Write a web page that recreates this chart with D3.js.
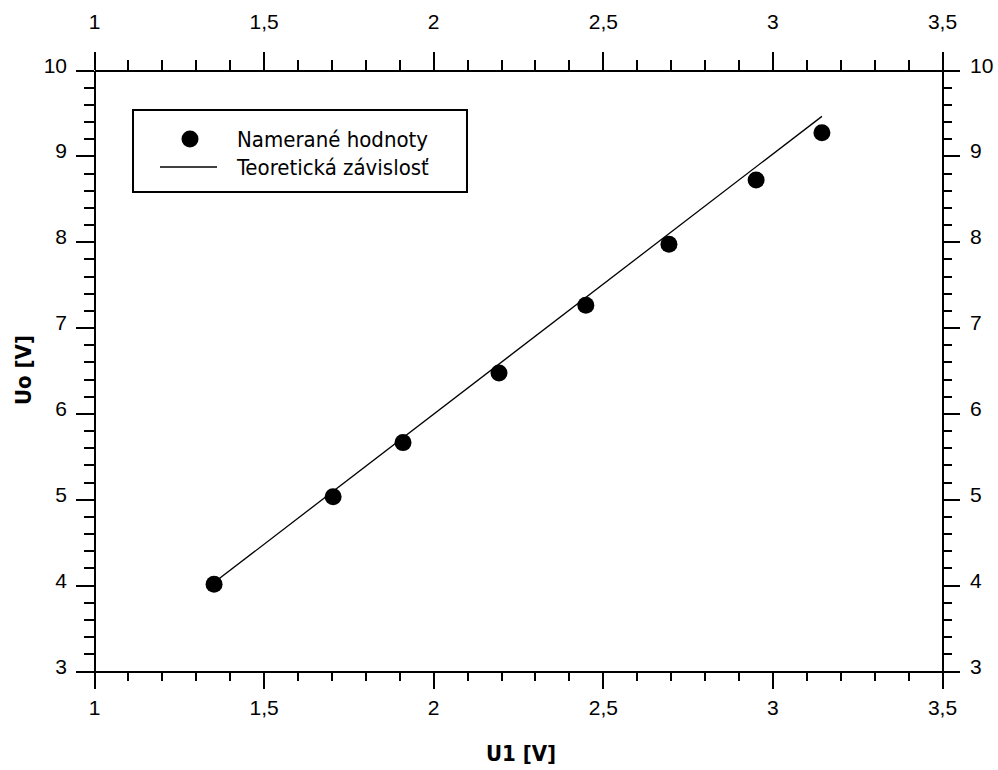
<!DOCTYPE html>
<html>
<head>
<meta charset="utf-8">
<script src="https://cdn.jsdelivr.net/npm/d3@7"></script>
<style>
  body { margin: 0; background: #fff; }
  svg { display: block; font-family: Tahoma, "DejaVu Sans Condensed", "DejaVu Sans", sans-serif; }
  .axis path, .axis line { stroke: #000; stroke-width: 2; shape-rendering: crispEdges; }
  .axis text { font-size: 21px; fill: #000; }
</style>
</head>
<body>
<script>
// measured values
const u1Values = [1.354, 1.705, 1.911, 2.194, 2.450, 2.695, 2.952, 3.146];
const uoValues = [4.01, 5.03, 5.66, 6.47, 7.26, 7.97, 8.72, 9.27];
// theoretical line endpoints
const theoryU1 = [1.354, 3.146];
const theoryUo = [4.03, 9.46];

const xMajorTicks = [1, 1.5, 2, 2.5, 3, 3.5];
const yMajorTicks = [3, 4, 5, 6, 7, 8, 9, 10];
const legendLabels = ["Namerané hodnoty", "Teoretická závislosť"];

const WIDTH = 998, HEIGHT = 770;
const margin = { top: 70, right: 56, bottom: 99, left: 94 };
const innerW = WIDTH - margin.left - margin.right;
const innerH = HEIGHT - margin.top - margin.bottom;

const MAJOR = 18, MINOR = 10;
const fmt = d => String(d).replace(".", ",");

const svg = d3.select("body").append("svg")
    .attr("width", WIDTH)
    .attr("height", HEIGHT);

const g = svg.append("g")
    .attr("transform", `translate(${margin.left},${margin.top})`);

const x = d3.scaleLinear().domain([1, 3.5]).range([0, innerW]);
const y = d3.scaleLinear().domain([3, 10]).range([innerH, 0]);

const xMinor = d3.range(10, 36).map(d => d / 10).filter(d => !xMajorTicks.some(t => Math.abs(t - d) < 1e-9));
const yMinor = d3.range(15, 51).map(d => d / 5).filter(d => !yMajorTicks.some(t => Math.abs(t - d) < 1e-9));

const drawAxis = (axisFn, scale, transform, labelPad) => {
    const major = g.append("g")
        .attr("class", "axis")
        .attr("transform", transform)
        .call(axisFn(scale).tickValues(scale === x ? xMajorTicks : yMajorTicks)
            .tickSize(MAJOR).tickSizeOuter(0).tickPadding(labelPad).tickFormat(fmt));
    g.append("g")
        .attr("class", "axis")
        .attr("transform", transform)
        .call(axisFn(scale).tickValues(scale === x ? xMinor : yMinor)
            .tickSize(MINOR).tickSizeOuter(0).tickFormat(""))
        .select(".domain").remove();
    return major;
};

drawAxis(d3.axisBottom, x, `translate(0,${innerH})`, 11);
drawAxis(d3.axisTop, x, "translate(0,0)", 23);
drawAxis(d3.axisLeft, y, "translate(0,0)", 9)
    .selectAll("text").attr("dy", "0.1em");
drawAxis(d3.axisRight, y, `translate(${innerW},0)`, 10)
    .selectAll("text").attr("dy", "0.1em");

// theory line
const line = d3.line().x(d => x(d[0])).y(d => y(d[1]));
g.append("path")
    .datum(d3.zip(theoryU1, theoryUo))
    .attr("d", line)
    .attr("fill", "none")
    .attr("stroke", "#000")
    .attr("stroke-width", 1.3);

// measured points
g.selectAll(".dot")
    .data(d3.zip(u1Values, uoValues))
    .join("circle")
    .attr("class", "dot")
    .attr("cx", d => x(d[0]))
    .attr("cy", d => y(d[1]))
    .attr("r", 8.5)
    .attr("fill", "#000");

// axis titles
svg.append("text")
    .attr("x", 521)
    .attr("y", 761)
    .attr("text-anchor", "middle")
    .attr("font-weight", "bold")
    .attr("font-size", 22)
    .text("U1 [V]");

svg.append("text")
    .attr("transform", "translate(31,370) rotate(-90)")
    .attr("text-anchor", "middle")
    .attr("font-weight", "bold")
    .attr("font-size", 22)
    .text("Uo [V]");

// legend
const legend = svg.append("g").attr("transform", "translate(133,110)");
legend.append("rect")
    .attr("width", 334)
    .attr("height", 82)
    .attr("fill", "#fff")
    .attr("stroke", "#000")
    .attr("stroke-width", 2);
legend.append("circle")
    .attr("cx", 57).attr("cy", 29).attr("r", 8.5).attr("fill", "#000");
legend.append("line")
    .attr("x1", 27).attr("x2", 84).attr("y1", 57).attr("y2", 57)
    .attr("stroke", "#000").attr("stroke-width", 1.3);
legend.selectAll(".legend-label")
    .data(legendLabels)
    .join("text")
    .attr("class", "legend-label")
    .attr("x", 104)
    .attr("y", (d, i) => 29 + i * 28)
    .attr("dy", "0.35em")
    .attr("font-size", 22)
    .text(d => d);
</script>
</body>
</html>
